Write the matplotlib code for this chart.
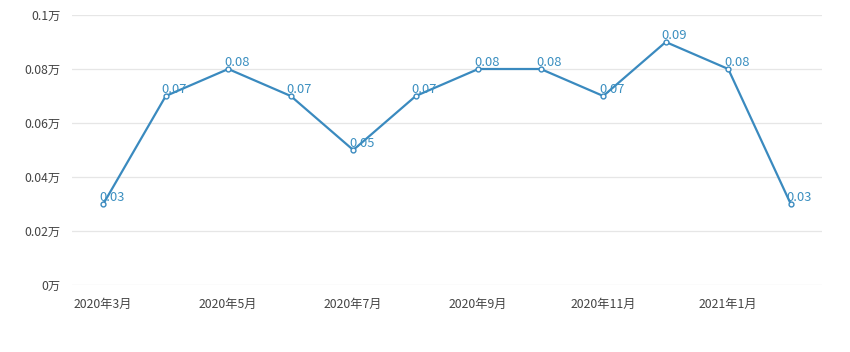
import matplotlib.pyplot as plt
import numpy as np

plt.rcParams['font.family'] = ['Noto Sans CJK SC', 'DejaVu Sans']

months = ['2020年3月', '2020年4月', '2020年5月', '2020年6月', '2020年7月', '2020年8月',
          '2020年9月', '2020年10月', '2020年11月', '2020年12月', '2021年1月', '2021年2月']
values = [0.03, 0.07, 0.08, 0.07, 0.05, 0.07, 0.08, 0.08, 0.07, 0.09, 0.08, 0.03]
yticks = [0, 0.02, 0.04, 0.06, 0.08, 0.1]
ytick_labels = ['0万', '0.02万', '0.04万', '0.06万', '0.08万', '0.1万']

line_color = '#3a8abf'

fig = plt.figure(figsize=(8.5, 3.52), dpi=100)
ax = fig.add_axes([72 / 850, 1 - 285 / 352, 750 / 850, 270 / 352])

x = np.arange(len(months))
ax.plot(x, values, color=line_color, lw=1.6, marker='o', markersize=3.5,
        markerfacecolor='white', markeredgecolor=line_color, markeredgewidth=1, zorder=3)

for xi, v in zip(x, values):
    ax.annotate('%.2f' % v, (xi, v), xytext=(-3, 0), textcoords='offset points',
                ha='left', va='bottom', fontsize=9.3, color='#3b8fc0', zorder=4)

ax.set_xlim(-0.5, len(months) - 0.5)
ax.set_ylim(0, 0.1)
ax.set_yticks(yticks)
ax.set_yticklabels(ytick_labels)
ax.set_xticks(x[::2])
ax.set_xticklabels(months[::2])

ax.grid(axis='y', color='#e6e6e6', lw=0.9)
ax.set_axisbelow(True)
for s in ax.spines.values():
    s.set_visible(False)
ax.tick_params(axis='both', length=0, labelsize=8.8, colors='#444444')
ax.tick_params(axis='y', pad=8)
ax.tick_params(axis='x', pad=9)

fig.savefig('out.png', dpi=100, facecolor='white')
